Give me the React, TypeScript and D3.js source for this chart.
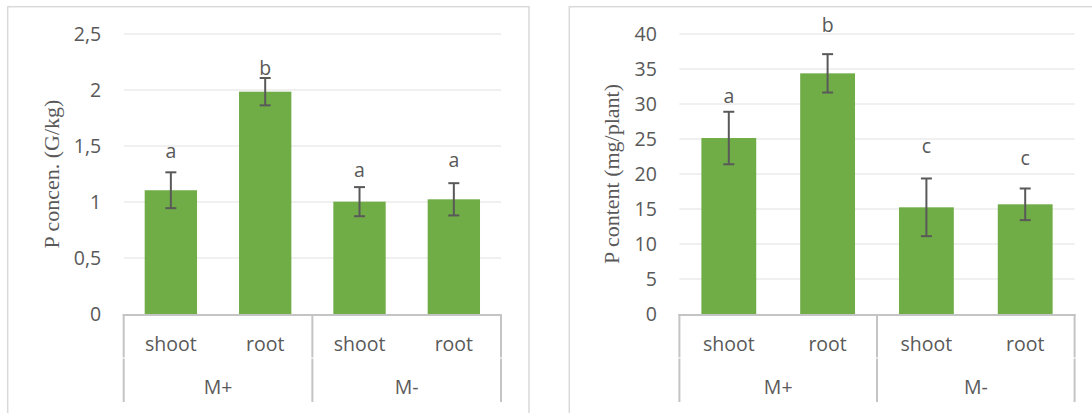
import React from 'react';
import * as d3 from 'd3';

// Plant parts, grouped by mycorrhizal treatment
const categories = ['shoot', 'root', 'shoot', 'root'];
const groups = ['M+', 'M-'];

// P concentration (G/kg)
const concValues = [1.105, 1.985, 1.003, 1.024];
const concErrors = [0.16, 0.122, 0.13, 0.144];
const concLetters = ['a', 'b', 'a', 'a'];
const concLetterAt = [1.39, 2.134, 1.226, 1.315];
const concTicks = [0, 0.5, 1, 1.5, 2, 2.5];
const concTickLabels = ['0', '0,5', '1', '1,5', '2', '2,5'];

// P content (mg/plant)
const contentValues = [25.14, 34.38, 15.24, 15.67];
const contentErrors = [3.75, 2.74, 4.12, 2.26];
const contentLetters = ['a', 'b', 'c', 'c'];
const contentLetterAt = [30.1, 40.3, 22.96, 21.3];
const contentTicks = [0, 5, 10, 15, 20, 25, 30, 35, 40];
const contentTickLabels = ['0', '5', '10', '15', '20', '25', '30', '35', '40'];

const BAR = '#70ad47';
const TEXT = '#595959';
const GRID = '#ebebeb';
const AXIS = '#c4c4c4';
const FRAME = '#d9d9d9';
const SANS = "'Open Sans', 'Noto Sans', sans-serif";
const SERIF = "'Liberation Serif', 'DejaVu Serif', serif";
const FS = 19.5;

type PanelProps = {
  frameX: number;
  frameW: number;
  x0: number;
  x1: number;
  titleX: number;
  values: number[];
  errors: number[];
  letters: string[];
  letterAt: number[];
  ticks: number[];
  tickLabels: string[];
  yMax: number;
  title: string;
};

function Panel(p: PanelProps) {
  const top = 34;
  const bottom = 314;
  const axisEnd = 402;
  const levelSplit = 358;

  const y = d3.scaleLinear().domain([0, p.yMax]).range([bottom, top]);
  const idx = categories.map((_, i) => String(i));
  const x = d3.scaleBand().domain(idx).range([p.x0, p.x1]).paddingInner(0.445).paddingOuter(0.2225);
  const groupX = d3.scaleBand().domain(groups).range([p.x0, p.x1]);
  const band = (p.x1 - p.x0) / categories.length;
  const capHalf = 5.5;

  const dividers = [p.x0, ...groups.map((g) => (groupX(g) as number) + groupX.bandwidth())];

  return (
    <g>
      <rect x={p.frameX} y={6.7} width={p.frameW} height={420} fill="#fff" stroke={FRAME} strokeWidth={1.5} />

      {p.ticks.map((t) => (
        t === 0 ? null : (
          <line key={'g' + t} x1={p.x0} x2={p.x1} y1={y(t)} y2={y(t)} stroke={GRID} strokeWidth={1.5} />
        )
      ))}

      {p.ticks.map((t, i) => (
        <text key={'t' + t} x={p.x0 - 22.5} y={y(t)} dy="0.36em" textAnchor="end"
          fontFamily={SANS} fontSize={FS} fill={TEXT}>{p.tickLabels[i]}</text>
      ))}

      <text transform={`translate(${p.titleX},${(top + bottom) / 2}) rotate(-90)`}
        textAnchor="middle" dy="0.3em" fontFamily={SERIF} fontSize={22} fill={TEXT}>{p.title}</text>

      {p.values.map((v, i) => {
        const bx = x(String(i)) as number;
        const bw = x.bandwidth();
        const cx = bx + bw / 2;
        const e = p.errors[i];
        return (
          <g key={'b' + i}>
            <rect x={bx} y={y(v)} width={bw} height={bottom - y(v)} fill={BAR} />
            <line x1={cx} x2={cx} y1={y(v + e)} y2={y(v - e)} stroke={TEXT} strokeWidth={2} />
            <line x1={cx - capHalf} x2={cx + capHalf} y1={y(v + e)} y2={y(v + e)} stroke={TEXT} strokeWidth={2} />
            <line x1={cx - capHalf} x2={cx + capHalf} y1={y(v - e)} y2={y(v - e)} stroke={TEXT} strokeWidth={2} />
            <text x={cx} y={y(p.letterAt[i])} textAnchor="middle" fontFamily={SANS} fontSize={FS} fill={TEXT}>
              {p.letters[i]}
            </text>
          </g>
        );
      })}

      <line x1={p.x0 - 1} x2={p.x1 + 1} y1={bottom + 1} y2={bottom + 1} stroke={AXIS} strokeWidth={2} />
      {dividers.map((dx, i) => (
        <g key={'d' + i}>
          <line x1={dx} x2={dx} y1={bottom} y2={levelSplit - 1} stroke={AXIS} strokeWidth={2} />
          <line x1={dx} x2={dx} y1={levelSplit - 1} y2={levelSplit + 1} stroke="#e4e4e4" strokeWidth={2} />
          <line x1={dx} x2={dx} y1={levelSplit + 1} y2={axisEnd} stroke={AXIS} strokeWidth={2} />
        </g>
      ))}

      {categories.map((c, i) => (
        <text key={'c' + i} x={p.x0 + band * (i + 0.5)} y={344} dy="0.36em" textAnchor="middle"
          fontFamily={SANS} fontSize={FS} fill={TEXT}>{c}</text>
      ))}
      {groups.map((g) => (
        <text key={'gr' + g} x={(groupX(g) as number) + groupX.bandwidth() / 2} y={387} dy="0.36em"
          textAnchor="middle" fontFamily={SANS} fontSize={FS} fill={TEXT}>{g}</text>
      ))}
    </g>
  );
}

export default function App() {
  return (
    <svg width={1092} height={413} style={{ position: 'absolute', left: 0, top: 0, background: '#fff' }}>
      <rect width={1092} height={413} fill="#fff" />
      <Panel frameX={7.7} frameW={521.3} x0={123.7} x1={501} titleX={52.5} values={concValues} errors={concErrors}
        letters={concLetters} letterAt={concLetterAt} ticks={concTicks} tickLabels={concTickLabels}
        yMax={2.5} title="P concen. (G/kg)" />
      <Panel frameX={569.3} frameW={600} x0={679.4} x1={1074.6} titleX={612.5} values={contentValues} errors={contentErrors}
        letters={contentLetters} letterAt={contentLetterAt} ticks={contentTicks} tickLabels={contentTickLabels}
        yMax={40} title="P content (mg/plant)" />
    </svg>
  );
}
